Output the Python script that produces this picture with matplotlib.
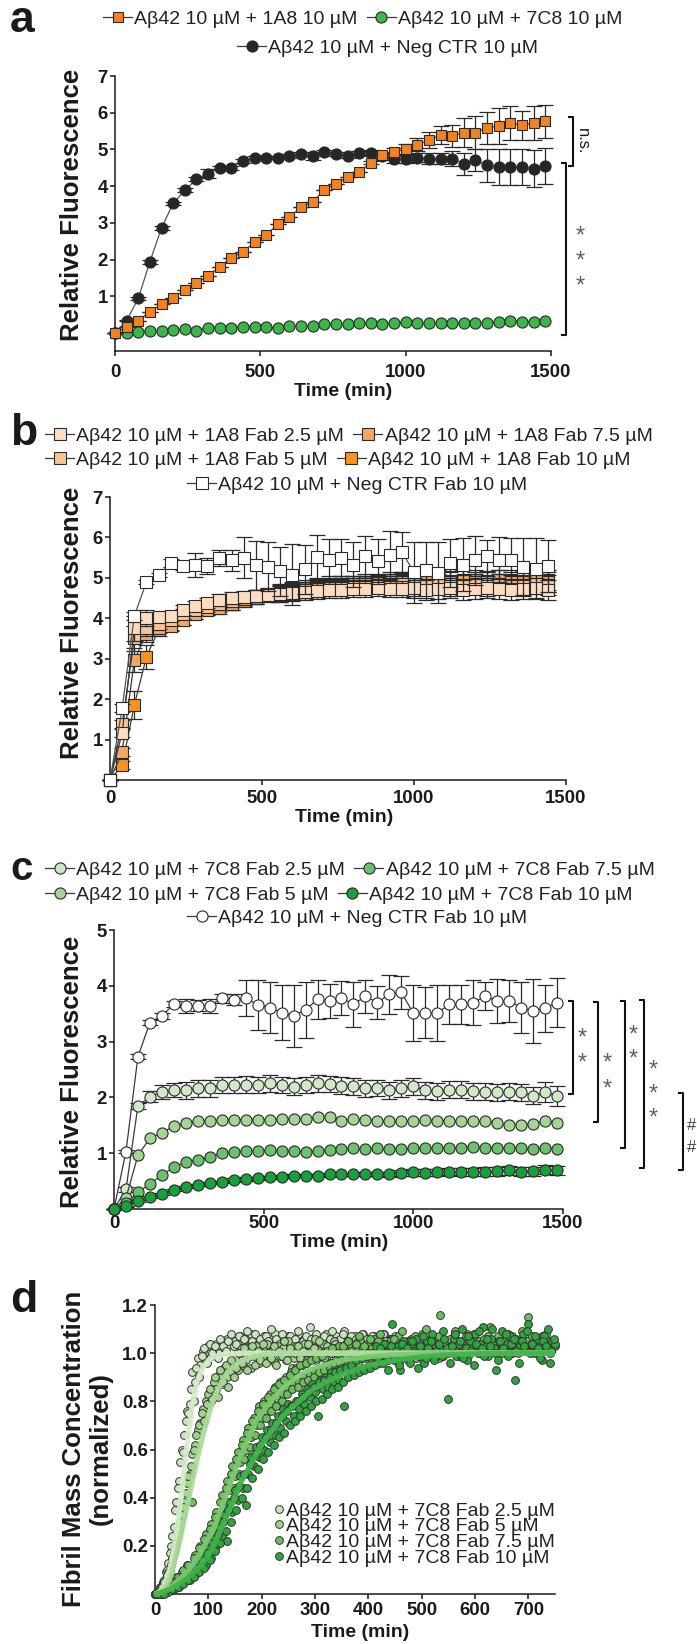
import numpy as np
import matplotlib
matplotlib.use("Agg")
import matplotlib.pyplot as plt
from matplotlib.lines import Line2D

plt.rcParams['font.family'] = ['Liberation Sans', 'DejaVu Sans']

# ------------------------------------------------------------------ data
# panel a (time step 40 min, 0..1480)
a_step = 40
a_1A8 = [0.0, 0.17, 0.34, 0.58, 0.78, 0.96, 1.17, 1.35, 1.56, 1.8, 2.05, 2.21, 2.47, 2.67, 2.96,
         3.16, 3.42, 3.57, 3.89, 4.07, 4.25, 4.39, 4.64, 4.84, 4.93, 5.0, 5.13, 5.25, 5.39, 5.36,
         5.46, 5.46, 5.59, 5.64, 5.72, 5.66, 5.72, 5.77]
a_1A8_err = [0, 0, 0, 0, 0, 0, 0, 0, 0, 0, 0, 0, 0, 0, 0, 0, 0, 0, 0, 0, 0, 0,
             0.05, 0.08, 0.12, 0.15, 0.18, 0.22, 0.25, 0.3, 0.4, 0.45, 0.43, 0.48, 0.45, 0.4, 0.45, 0.45]
a_7C8 = [0.0, 0.0, 0.04, 0.05, 0.05, 0.08, 0.1, 0.05, 0.15, 0.15, 0.15, 0.17, 0.17, 0.17, 0.13,
         0.19, 0.19, 0.19, 0.24, 0.24, 0.24, 0.26, 0.26, 0.24, 0.26, 0.31, 0.28, 0.26, 0.28, 0.28,
         0.26, 0.26, 0.26, 0.31, 0.34, 0.31, 0.31, 0.33]
a_neg = [0.0, 0.34, 0.94, 1.94, 2.86, 3.53, 3.89, 4.19, 4.34, 4.5, 4.5, 4.69, 4.78, 4.78, 4.78,
         4.83, 4.87, 4.82, 4.93, 4.88, 4.82, 4.91, 4.9, 4.82, 4.75, 4.75, 4.78, 4.75, 4.75, 4.75,
         4.61, 4.7, 4.57, 4.52, 4.52, 4.52, 4.48, 4.55]
a_neg_err = [0, 0.02, 0.03, 0.05, 0.05, 0.05, 0.05, 0.06, 0.12, 0.06, 0.05, 0.05, 0.05, 0.05, 0.05,
             0.05, 0.06, 0.1, 0.06, 0.06, 0.06, 0.06, 0.08, 0.1, 0.12, 0.12, 0.12, 0.15, 0.15, 0.2,
             0.3, 0.3, 0.45, 0.5, 0.5, 0.5, 0.5, 0.5]

# panel b (time step 40 min, 0..1440)
b_step = 40
b_neg = [0, 1.77, 4.06, 4.9, 5.06, 5.37, 5.29, 5.31, 5.29, 5.49, 5.43, 5.5, 5.31, 5.28, 5.16, 5.08,
         5.21, 5.51, 5.45, 5.5, 5.33, 5.54, 5.41, 5.57, 5.64, 5.14, 5.19, 5.13, 5.37, 5.33, 5.43,
         5.54, 5.45, 5.43, 5.28, 5.23, 5.29]
b_neg_err = [0, 0.1, 0.1, 0.05, 0.05, 0.1, 0.1, 0.3, 0.2, 0.2, 0.25, 0.5, 0.6, 0.6, 0.6, 0.75, 0.6,
             0.55, 0.5, 0.45, 0.55, 0.5, 0.55, 0.6, 0.5, 0.75, 0.7, 0.75, 0.6, 0.65, 0.6, 0.4, 0.55,
             0.55, 0.7, 0.75, 0.65]
b_25 = [0, 1.16, 3.75, 4.0, 4.02, 4.05, 4.2, 4.3, 4.38, 4.45, 4.5, 4.52, 4.55, 4.58, 4.6, 4.62,
        4.65, 4.68, 4.7, 4.7, 4.72, 4.72, 4.75, 4.72, 4.72, 4.75, 4.7, 4.72, 4.75, 4.7, 4.72, 4.75,
        4.72, 4.7, 4.72, 4.74, 4.7]
b_5 = [0, 1.38, 3.5, 3.75, 3.85, 3.95, 4.1, 4.2, 4.28, 4.36, 4.42, 4.48, 4.55, 4.58, 4.62, 4.66,
       4.7, 4.72, 4.75, 4.78, 4.8, 4.8, 4.82, 4.8, 4.84, 4.8, 4.82, 4.85, 4.8, 4.83, 4.85, 4.8,
       4.84, 4.82, 4.8, 4.85, 4.82]
b_75 = [0, 0.69, 2.96, 3.62, 3.75, 3.82, 3.95, 4.1, 4.2, 4.25, 4.35, 4.42, 4.5, 4.55, 4.6, 4.68,
        4.7, 4.75, 4.78, 4.8, 4.85, 4.85, 4.88, 4.9, 4.92, 4.88, 4.9, 4.9, 4.92, 4.95, 4.9, 4.92,
        4.95, 4.9, 4.92, 4.95, 4.9]
b_10 = [0, 0.36, 1.85, 3.05, 3.72, 3.8, 3.95, 4.1, 4.2, 4.3, 4.35, 4.45, 4.5, 4.6, 4.65, 4.7,
        4.75, 4.8, 4.85, 4.85, 4.85, 4.9, 4.9, 4.95, 4.95, 4.9, 4.95, 4.95, 4.9, 4.95, 4.95, 4.9,
        4.95, 4.95, 4.9, 4.95, 4.95]
b_fab_err = [0, 0.1, 0.3, 0.2, 0.12, 0.12, 0.12, 0.12, 0.12, 0.15, 0.15, 0.15, 0.15, 0.15, 0.2,
             0.2, 0.2, 0.2, 0.2, 0.2, 0.2, 0.2, 0.2, 0.2, 0.2, 0.25, 0.25, 0.25, 0.25, 0.25, 0.25,
             0.25, 0.25, 0.25, 0.25, 0.25, 0.25]
b_10_err = [0, 0.1, 0.35, 0.3, 0.15, 0.12, 0.12, 0.12, 0.12, 0.15, 0.15, 0.15, 0.15, 0.15, 0.2,
            0.2, 0.2, 0.2, 0.2, 0.2, 0.2, 0.2, 0.2, 0.2, 0.2, 0.25, 0.25, 0.25, 0.25, 0.25, 0.25,
            0.25, 0.25, 0.25, 0.25, 0.25, 0.25]

# panel c (time step 40 min, 0..1480)
c_step = 40
c_neg = [0, 1.03, 2.73, 3.34, 3.46, 3.67, 3.64, 3.64, 3.64, 3.78, 3.75, 3.78, 3.66, 3.61, 3.52,
         3.46, 3.57, 3.76, 3.73, 3.78, 3.67, 3.81, 3.7, 3.85, 3.88, 3.51, 3.52, 3.51, 3.67, 3.67,
         3.7, 3.81, 3.73, 3.73, 3.61, 3.55, 3.6, 3.7]
c_neg_err = [0, 0.03, 0.05, 0.05, 0.05, 0.05, 0.12, 0.1, 0.12, 0.08, 0.1, 0.33, 0.45, 0.45, 0.5,
             0.55, 0.5, 0.35, 0.3, 0.3, 0.4, 0.3, 0.3, 0.35, 0.3, 0.5, 0.45, 0.5, 0.35, 0.35, 0.4,
             0.25, 0.4, 0.38, 0.45, 0.58, 0.42, 0.44]
c_25 = [0, 0.35, 1.85, 2.01, 2.1, 2.13, 2.13, 2.16, 2.16, 2.22, 2.22, 2.23, 2.22, 2.25, 2.22, 2.19,
        2.22, 2.25, 2.24, 2.21, 2.2, 2.16, 2.17, 2.13, 2.16, 2.2, 2.13, 2.11, 2.14, 2.14, 2.11, 2.1,
        2.09, 2.1, 2.09, 2.03, 2.09, 2.03]
c_25_err = [0, 0.05, 0.05, 0.1, 0.12, 0.12, 0.15, 0.15, 0.15, 0.15, 0.15, 0.15, 0.15, 0.15, 0.15,
            0.15, 0.15, 0.15, 0.15, 0.15, 0.15, 0.15, 0.15, 0.15, 0.15, 0.15, 0.15, 0.15, 0.15, 0.15,
            0.15, 0.15, 0.15, 0.15, 0.15, 0.15, 0.18, 0.18]
c_5 = [0, 0.2, 0.96, 1.27, 1.37, 1.48, 1.54, 1.57, 1.58, 1.6, 1.6, 1.6, 1.6, 1.6, 1.61, 1.61, 1.62,
       1.64, 1.64, 1.58, 1.61, 1.6, 1.58, 1.57, 1.57, 1.57, 1.6, 1.58, 1.58, 1.57, 1.57, 1.57, 1.54,
       1.51, 1.51, 1.52, 1.58, 1.54]
c_75 = [0, 0.1, 0.3, 0.45, 0.61, 0.75, 0.84, 0.88, 0.93, 1.0, 1.02, 1.04, 1.04, 1.06, 1.04, 1.04,
        1.02, 1.04, 1.06, 1.07, 1.09, 1.07, 1.09, 1.07, 1.07, 1.09, 1.09, 1.1, 1.1, 1.1, 1.12, 1.1,
        1.1, 1.1, 1.09, 1.07, 1.1, 1.07]
c_10 = [0, 0.05, 0.15, 0.21, 0.27, 0.34, 0.4, 0.43, 0.46, 0.49, 0.52, 0.54, 0.55, 0.57, 0.58, 0.6,
        0.6, 0.6, 0.62, 0.62, 0.62, 0.63, 0.63, 0.62, 0.64, 0.66, 0.65, 0.66, 0.67, 0.66, 0.67, 0.67,
        0.68, 0.69, 0.67, 0.68, 0.7, 0.69]
c_10_err = [0, 0.01, 0.02, 0.02, 0.02, 0.02, 0.02, 0.02, 0.02, 0.02, 0.03, 0.03, 0.03, 0.03, 0.03,
            0.03, 0.03, 0.03, 0.03, 0.03, 0.03, 0.04, 0.04, 0.04, 0.05, 0.06, 0.06, 0.06, 0.06, 0.07,
            0.07, 0.08, 0.08, 0.08, 0.08, 0.08, 0.08, 0.08]

# panel d scatter: replicate 1 at t = 0, 5, 10 ... ; replicate 2 at t = 2.5, 7.5, ...
d_step = 5
d_25 = [0.0, 0.01, 0.03, 0.05, 0.09, 0.13, 0.2, 0.28, 0.38, 0.47, 0.6, 0.66, 0.76, 0.79, 0.92, 0.88,
        0.98, 0.95, 1.01, 0.97, 1.03, 0.99, 1.02, 1.04, 1.0, 1.05, 1.02, 1.06, 1.03, 1.01, 1.05, 1.04,
        1.07, 1.02, 1.06, 1.03, 1.08, 1.04, 1.06, 1.02, 1.05, 1.07, 1.03, 1.06, 1.04, 1.08, 1.05, 1.03,
        1.06, 1.04, 1.07, 1.05, 1.03, 1.06, 1.08, 1.04, 1.06, 1.05, 1.11, 1.04, 1.07, 1.05, 1.03, 1.06,
        1.08, 1.04, 1.06, 1.05, 1.07, 1.03, 1.06, 1.09, 1.04, 1.06, 1.05, 1.07, 1.04, 1.06, 1.08, 1.05,
        1.03, 1.06, 1.07, 1.04, 1.06, 1.05, 1.08, 1.04, 1.06, 1.05, 1.07]
d_25_r2 = [0.0, 0.02, 0.03, 0.06, 0.1, 0.17, 0.24, 0.35, 0.44, 0.55, 0.59, 0.72, 0.75, 0.85, 0.8,
           0.94, 0.9, 0.99, 1.02, 0.96, 1.04, 1.0, 1.03, 0.98, 1.06, 1.03, 1.01, 1.05, 1.08, 1.03,
           1.04, 1.07, 1.02, 1.06, 1.09, 1.03, 1.05, 1.08, 1.04, 1.06, 1.02, 1.07, 1.05, 1.1, 1.03,
           1.06, 1.04, 1.08, 1.05, 1.02, 1.07, 1.04, 1.06, 1.09, 1.03, 1.05, 1.07, 1.04, 1.06, 1.02,
           1.08, 1.05, 1.03, 1.07, 1.04, 1.06, 1.09, 1.05, 1.03, 1.06, 1.08, 1.04, 1.05, 1.07, 1.03,
           1.06, 1.04, 1.08, 1.05, 1.06, 1.03, 1.07, 1.05, 1.04, 1.06, 1.08, 1.05, 1.03, 1.06, 1.04]
d_5 = [0.0, 0.01, 0.02, 0.04, 0.06, 0.09, 0.12, 0.17, 0.21, 0.27, 0.33, 0.38, 0.46, 0.5, 0.58, 0.62,
       0.68, 0.71, 0.77, 0.8, 0.83, 0.8, 0.88, 0.85, 0.91, 0.87, 0.94, 0.9, 0.96, 0.92, 0.98, 0.93,
       1.0, 0.95, 0.97, 1.02, 0.94, 0.99, 1.03, 0.96, 1.0, 0.97, 1.04, 0.98, 1.01, 0.96, 1.03, 0.99,
       1.02, 0.97, 1.05, 1.0, 0.98, 1.03, 1.01, 0.97, 1.04, 1.0, 0.98, 1.02, 1.06, 0.99, 1.01, 1.04,
       0.98, 1.02, 1.0, 1.05, 0.99, 1.03, 1.01, 0.97, 1.04, 1.0, 1.02, 0.98, 1.05, 1.01, 0.99, 1.03,
       1.0, 1.04, 0.98, 1.02, 1.05, 1.0, 0.97, 1.03, 1.01, 1.06, 0.99, 1.02, 1.04, 1.0, 0.98, 1.03,
       1.05, 1.01, 0.99, 1.04, 1.02, 0.98, 1.03, 1.01, 1.05, 1.0, 1.02, 1.04, 0.99, 1.03, 1.01]
d_5_r2 = [0.0, 0.01, 0.03, 0.05, 0.08, 0.1, 0.15, 0.19, 0.24, 0.3, 0.36, 0.42, 0.49, 0.53, 0.6,
          0.66, 0.7, 0.75, 0.72, 0.79, 0.85, 0.81, 0.9, 0.82, 0.93, 0.88, 0.95, 0.86, 0.97, 0.9,
          0.94, 1.0, 0.96, 1.02, 0.93, 0.99, 1.03, 0.95, 1.01, 0.97, 1.04, 0.96, 1.0, 0.98, 1.03,
          0.95, 1.01, 0.99, 1.05, 0.97, 1.02, 0.94, 1.0, 1.03, 0.98, 1.01, 0.96, 1.04, 0.99, 1.02,
          0.97, 1.05, 1.0, 0.98, 1.03, 0.96, 1.01, 1.04, 0.99, 1.02, 0.97, 1.0, 1.05, 0.98, 1.02,
          0.96, 1.03, 1.0, 0.99, 1.04, 0.97, 1.01, 1.03, 0.98, 1.05, 1.0, 0.97, 1.02, 1.04, 0.99,
          1.01, 0.96, 1.03, 1.0, 1.05, 0.98, 1.02, 0.99, 1.04, 1.01, 0.97, 1.03, 1.0, 1.06, 0.99,
          1.02, 0.98, 1.04, 1.01, 1.03]
d_75 = [0.0, 0.0, 0.01, 0.0, 0.03, 0.02, 0.05, 0.03, 0.07, 0.05, 0.09, 0.07, 0.12, 0.09, 0.38, 0.16,
        0.13, 0.2, 0.17, 0.25, 0.21, 0.29, 0.25, 0.34, 0.3, 0.41, 0.36, 0.47, 0.43, 0.53, 0.49, 0.59,
        0.55, 0.64, 0.6, 0.69, 0.65, 0.73, 0.7, 0.78, 0.73, 0.8, 0.76, 0.83, 0.79, 0.86, 0.81, 0.88,
        0.83, 0.9, 0.85, 0.92, 0.87, 0.94, 0.88, 0.95, 0.9, 0.97, 0.91, 0.98, 0.92, 0.99, 0.93, 1.0,
        0.95, 1.01, 0.96, 1.02, 0.97, 1.03, 0.98, 1.02, 0.97, 1.04, 0.99, 1.02, 0.96, 1.05, 1.0, 0.98,
        1.03, 1.01, 1.06, 0.99, 1.02, 1.04, 1.0, 0.98, 1.05, 1.02, 1.0, 1.07, 1.03, 0.99, 1.04, 1.01,
        1.06, 1.02, 0.98, 1.04, 1.08, 1.02, 1.0, 1.05, 1.03, 0.99, 1.06, 1.16, 1.02, 1.05, 1.0, 1.04,
        1.07, 1.02, 0.99, 1.05, 1.03, 1.08, 1.01, 1.04, 1.06, 1.02, 1.0, 1.05, 1.03, 1.07, 1.01, 1.04,
        1.02, 1.06, 1.0, 1.03, 1.05, 1.01, 1.07, 1.03, 1.0, 1.04, 1.06, 1.02, 1.15, 1.03, 1.05, 1.01,
        1.04, 1.07, 1.02, 1.05, 1.0, 1.04, 1.03]
d_75_r2 = [0.0, 0.01, 0.0, 0.02, 0.03, 0.02, 0.05, 0.04, 0.07, 0.06, 0.1, 0.07, 0.12, 0.1, 0.15,
           0.12, 0.19, 0.15, 0.23, 0.19, 0.27, 0.22, 0.32, 0.27, 0.38, 0.33, 0.44, 0.38, 0.5, 0.44,
           0.56, 0.5, 0.62, 0.56, 0.67, 0.61, 0.72, 0.66, 0.76, 0.7, 0.79, 0.73, 0.82, 0.76, 0.85,
           0.78, 0.87, 0.8, 0.89, 0.83, 0.91, 0.85, 0.93, 0.86, 0.95, 0.88, 0.96, 0.89, 0.97, 0.9,
           0.98, 0.92, 0.99, 0.93, 1.01, 0.94, 1.02, 0.95, 1.0, 0.96,
           1.03, 0.98, 1.05, 1.01, 0.97, 1.04, 1.07, 1.0, 1.03, 0.99, 1.06, 1.02, 0.98, 1.05, 1.08,
           1.01, 1.04, 0.97, 1.03, 1.06, 1.0, 1.04, 1.09, 1.02, 0.99, 1.05, 1.03, 1.07, 1.0, 1.04,
           1.02, 1.1, 1.01, 1.05, 0.98, 1.03, 1.07, 1.02, 1.04, 1.0, 1.06, 1.03, 1.09, 1.01, 1.05,
           1.02, 1.07, 0.99, 1.04, 1.08, 1.02, 1.05, 1.0, 1.06, 1.03, 1.11, 1.02, 1.04, 1.07, 1.01,
           1.05, 1.03, 1.08, 1.0, 1.04, 1.06, 1.02, 1.09, 1.03, 1.05, 1.01, 1.07, 1.04, 1.02, 1.06,
           1.03, 1.08, 1.05, 1.01, 1.04]
d_10 = [0.0, 0.0, 0.0, 0.01, 0.02, 0.01, 0.03, 0.02, 0.05, 0.03, 0.07, 0.05, 0.08, 0.06, 0.1, 0.08,
        0.13, 0.1, 0.16, 0.12, 0.19, 0.15, 0.23, 0.2, 0.28, 0.24, 0.33, 0.22, 0.38, 0.34, 0.43, 0.39,
        0.49, 0.44, 0.37, 0.5, 0.57, 0.53, 0.61, 0.57, 0.65, 0.6, 0.68, 0.63, 0.71, 0.66, 0.74, 0.69,
        0.77, 0.72, 0.79, 0.78, 0.74, 0.8, 0.77, 0.83, 0.79, 0.85, 0.82, 0.87, 0.84, 0.74, 0.89, 0.85,
        0.9, 0.86, 0.92, 0.88, 0.93, 0.89, 0.94, 0.78, 0.95, 0.91, 0.96, 0.92, 0.98, 0.93, 0.99, 0.94,
        1.0, 0.95, 0.99, 1.03, 0.96, 1.0, 1.04, 0.97, 1.02, 1.12, 0.98, 1.03, 0.93, 1.05, 1.0, 0.97,
        1.04, 1.01, 1.06, 0.99, 1.03, 0.96, 1.05, 1.01, 1.08, 0.98, 1.04, 1.02, 1.09, 1.0, 0.81, 1.03,
        1.06, 0.99, 1.04, 1.1, 1.01, 0.97, 1.05, 1.02, 1.08, 1.0, 1.04, 1.11, 1.03, 0.99, 1.06, 1.02,
        0.93, 1.05, 1.09, 1.01, 1.04, 1.07, 1.0, 0.89, 1.05, 1.03, 1.08, 1.01, 1.12, 1.04, 1.0, 1.06,
        1.03, 0.97, 1.07, 1.02, 0.96, 1.05, 1.04]
d_10_r2 = [0.0, 0.0, 0.01, 0.0, 0.02, 0.03, 0.02, 0.04, 0.03, 0.06, 0.04, 0.07, 0.06, 0.09, 0.07,
           0.11, 0.09, 0.14, 0.11, 0.17, 0.14, 0.21, 0.18, 0.25, 0.21, 0.3, 0.26, 0.35, 0.3, 0.4,
           0.35, 0.45, 0.4, 0.5, 0.44, 0.54, 0.48, 0.58, 0.52, 0.62, 0.56, 0.65, 0.59, 0.68, 0.62,
           0.71, 0.65, 0.74, 0.67, 0.76, 0.7, 0.78, 0.72, 0.8, 0.74, 0.82, 0.76, 0.84, 0.78, 0.86,
           0.8, 0.88, 0.81, 0.89, 0.83, 0.9, 0.85, 0.92, 0.86, 0.93,
           0.88, 0.94, 0.9, 0.95, 0.91, 0.97, 0.92, 0.98, 0.93, 0.99, 0.94, 1.0, 0.95, 0.98, 1.02,
           0.96, 1.0, 0.93, 1.03, 0.97, 1.01, 0.95, 1.04, 0.99, 1.02, 0.96, 1.05, 1.0, 0.94, 1.03,
           1.07, 0.98, 1.02, 1.05, 0.97, 1.01, 1.04, 0.99, 1.06, 1.02, 0.96, 1.03, 1.08, 1.0, 1.05,
           0.98, 1.02, 1.07, 1.01, 0.95, 1.04, 1.09, 1.02, 0.99, 1.06, 1.03, 1.1, 1.0, 0.97, 1.05,
           1.02, 1.08, 0.99, 1.04, 1.06, 1.01, 0.96, 1.05, 1.03, 1.09, 1.0, 1.04, 1.07, 1.02, 0.98,
           1.05, 1.03, 1.1, 1.01, 1.06]

# panel d fitted curves
d_fit_t = [0, 10, 20, 30, 40, 50, 60, 70, 80, 90, 100, 110, 120, 130, 140, 150, 160, 170, 180, 190,
           200, 210, 220, 230, 240, 250, 260, 270, 280, 290, 300, 325, 350, 375, 400, 425, 450, 475,
           500, 525, 550, 575, 600, 625, 650, 675, 700, 725, 750]
d_fit_25 = [0, 0.01, 0.05, 0.12, 0.25, 0.42, 0.62, 0.79, 0.89, 0.94, 0.97, 0.985, 0.99, 0.995, 0.997,
            0.998, 1.0, 1.0, 1.0, 1.0, 1.0, 1.0, 1.0, 1.0, 1.0, 1.0, 1.0, 1.0, 1.0, 1.0, 1.0, 1.0, 1.0,
            1.0, 1.0, 1.0, 1.0, 1.0, 1.0, 1.0, 1.0, 1.0, 1.0, 1.0, 1.0, 1.0, 1.0, 1.0, 1.0]
d_fit_5 = [0, 0.01, 0.03, 0.08, 0.16, 0.26, 0.36, 0.47, 0.57, 0.66, 0.74, 0.81, 0.86, 0.9, 0.93, 0.95,
           0.965, 0.975, 0.982, 0.988, 0.992, 0.995, 0.997, 0.998, 0.999, 1.0, 1.0, 1.0, 1.0, 1.0,
           1.0, 1.0, 1.0, 1.0, 1.0, 1.0, 1.0, 1.0, 1.0, 1.0, 1.0, 1.0, 1.0, 1.0, 1.0, 1.0, 1.0, 1.0, 1.0]
d_fit_75 = [0, 0.005, 0.015, 0.03, 0.05, 0.07, 0.09, 0.12, 0.15, 0.19, 0.23, 0.27, 0.33, 0.39, 0.45,
            0.51, 0.57, 0.62, 0.67, 0.72, 0.75, 0.78, 0.81, 0.83, 0.855, 0.875, 0.89, 0.905, 0.92,
            0.93, 0.94, 0.955, 0.97, 0.978, 0.985, 0.99, 0.993, 0.995, 0.997, 0.998, 0.999, 1.0, 1.0,
            1.0, 1.0, 1.0, 1.0, 1.0, 1.0]
d_fit_10 = [0, 0.005, 0.012, 0.022, 0.035, 0.05, 0.065, 0.085, 0.105, 0.13, 0.16, 0.2, 0.25, 0.3,
            0.35, 0.4, 0.46, 0.5, 0.54, 0.58, 0.62, 0.65, 0.68, 0.71, 0.74, 0.76, 0.78, 0.8, 0.82,
            0.84, 0.855, 0.885, 0.91, 0.93, 0.95, 0.96, 0.97, 0.978, 0.985, 0.99, 0.993, 0.995, 0.997,
            0.998, 0.999, 1.0, 1.0, 1.0, 1.0]

# labels
lab_a = ["Aβ42 10 µM + 1A8 10 µM", "Aβ42 10 µM + 7C8 10 µM", "Aβ42 10 µM + Neg CTR 10 µM"]
lab_b = ["Aβ42 10 µM + 1A8 Fab 2.5 µM", "Aβ42 10 µM + 1A8 Fab 5 µM", "Aβ42 10 µM + 1A8 Fab 7.5 µM",
         "Aβ42 10 µM + 1A8 Fab 10 µM", "Aβ42 10 µM + Neg CTR Fab 10 µM"]
lab_c = ["Aβ42 10 µM + 7C8 Fab 2.5 µM", "Aβ42 10 µM + 7C8 Fab 5 µM", "Aβ42 10 µM + 7C8 Fab 7.5 µM",
         "Aβ42 10 µM + 7C8 Fab 10 µM", "Aβ42 10 µM + Neg CTR Fab 10 µM"]
lab_d = ["Aβ42 10 µM + 7C8 Fab 2.5 µM", "Aβ42 10 µM + 7C8 Fab 5 µM", "Aβ42 10 µM + 7C8 Fab 7.5 µM",
         "Aβ42 10 µM + 7C8 Fab 10 µM"]
fluo_ticks = [1, 2, 3, 4, 5, 6, 7]
time_ticks = [0, 500, 1000, 1500]

# ------------------------------------------------------------------ colours
ORANGE = '#F58220'
GREEN = '#3DB54A'
BLACK = '#262626'
b_cols = ['#FDDCC2', '#FAC391', '#F7A85C', '#F7941D']
c_cols = ['#CFE8C6', '#A5D596', '#6EC16C', '#18A03C']
d_cols = ['#C8E5BD', '#A2D38E', '#6DBF5E', '#2FA63D']
d_fit_cols = ['#D5EDCB', '#ABDB98', '#7ECB70', '#43B24C']
EDGE = '#2a2a2a'
STAR = '#5f5f5f'

# ------------------------------------------------------------------ figure
W, H = 697, 1644
fig = plt.figure(figsize=(W / 100, H / 100), dpi=100)


def fx(x):
    return x / W


def fy(y):
    return 1 - y / H


def px_box(x0, x1, y_top, y_bot):
    return [x0 / W, 1 - y_bot / H, (x1 - x0) / W, (y_bot - y_top) / H]


TICK_FS = 13.4
LAB_FS = 18.5
LEG_FS = 14


def style_axes(ax, xpad, ypad):
    for s in ['top', 'right']:
        ax.spines[s].set_visible(False)
    for s in ['left', 'bottom']:
        ax.spines[s].set_linewidth(1.1)
        ax.spines[s].set_color('#1a1a1a')
    ax.tick_params(direction='out', length=3.6, width=1.1, labelsize=TICK_FS, colors='#1a1a1a')
    ax.tick_params(axis='x', pad=xpad)
    ax.tick_params(axis='y', pad=ypad)
    for lab in ax.get_xticklabels() + ax.get_yticklabels():
        lab.set_fontweight('bold')


def series(ax, t, y, err, fc, mk, ms, lc='#3a3a3a', z=3):
    if err is not None:
        ax.errorbar(t, y, yerr=err, fmt='none', ecolor='#2a2a2a', elinewidth=0.9, capsize=6,
                    capthick=0.9, zorder=z - 0.5, clip_on=False)
    ax.plot(t, y, '-', color=lc, lw=0.9, zorder=z - 0.2, clip_on=False)
    ax.plot(t, y, ls='none', marker=mk, ms=ms, mfc=fc, mec=EDGE, mew=0.8, zorder=z, clip_on=False)


def handle(mk, ms, fc, line=True):
    return Line2D([], [], color='#3a3a3a', lw=0.9 if line else 0, marker=mk, ms=ms, mfc=fc,
                  mec=EDGE, mew=0.8)


def row_legend(handles, labels, x_px, y_px):
    fig.legend(handles, labels, loc='center left', bbox_to_anchor=(fx(x_px), fy(y_px)),
               bbox_transform=fig.transFigure, ncol=len(handles), frameon=False, fontsize=LEG_FS,
               handlelength=1.5, handletextpad=0.12, columnspacing=0.45, borderpad=0,
               borderaxespad=0, labelcolor='#222222')


def set_labels(ax, xlab, xc, ylab, yc):
    ax.set_xlabel(xlab, fontsize=14, fontweight='bold', color='#1a1a1a')
    ax.xaxis.set_label_coords(fx(xc[0]), fy(xc[1]), transform=fig.transFigure)
    ax.xaxis.label.set_va('center')
    ax.set_ylabel(ylab, fontsize=LAB_FS, fontweight='bold', color='#1a1a1a', linespacing=1.15)
    ax.yaxis.set_label_coords(fx(yc[0]), fy(yc[1]), transform=fig.transFigure)
    ax.yaxis.label.set_va('center')


def bracket(x, y0, y1, stub=4):
    fig.add_artist(Line2D([fx(x - stub), fx(x), fx(x), fx(x - stub)], [fy(y0), fy(y0), fy(y1), fy(y1)],
                          transform=fig.transFigure, color='#111111', lw=1.5))


def stars(x, ys, ch='*', fs=17, color=STAR, dy=13):
    for y in ys:
        fig.text(fx(x), fy(y + dy), ch, fontsize=fs, color=color, ha='center', va='baseline')


# ------------------------------------------------------------------ panel a
ax_a = fig.add_axes(px_box(115, 551, 76, 351))
t_a = np.arange(len(a_neg)) * a_step
series(ax_a, t_a, a_neg, a_neg_err, BLACK, 'o', 8, lc='#555555', z=3)
series(ax_a, t_a, a_7C8, None, GREEN, 'o', 8, z=4)
series(ax_a, t_a, a_1A8, a_1A8_err, ORANGE, 's', 7.8, z=5)
ax_a.set_xlim(0, 1500)
ax_a.set_ylim(-0.49, 7)
ax_a.set_yticks(fluo_ticks)
ax_a.set_xticks(time_ticks)
style_axes(ax_a, 5.5, 1.5)
set_labels(ax_a, 'Time (min)', (343, 392), 'Relative Fluorescence', (72, 205))
row_legend([handle('s', 7.8, ORANGE), handle('o', 8, GREEN)], lab_a[:2], 103, 19)
row_legend([handle('o', 8, BLACK)], lab_a[2:], 237, 48)
fig.text(fx(10), fy(32), 'a', fontsize=32, fontweight='bold', color='#1a1a1a', va='baseline')
bracket(573, 117, 166)
fig.text(fx(582), fy(141), 'n.s.', fontsize=12, rotation=270, ha='center', va='center', color='#1a1a1a')
bracket(566, 163, 335)
stars(580, [230, 255, 280])

# ------------------------------------------------------------------ panel b
ax_b = fig.add_axes(px_box(110, 566, 497, 780))
t_b = np.arange(len(b_neg)) * b_step
series(ax_b, t_b, b_10, b_10_err, b_cols[3], 's', 8, z=3)
series(ax_b, t_b, b_75, b_fab_err, b_cols[2], 's', 8, z=4)
series(ax_b, t_b, b_5, b_fab_err, b_cols[1], 's', 8, z=5)
series(ax_b, t_b, b_25, b_fab_err, b_cols[0], 's', 8, z=6)
series(ax_b, t_b, b_neg, b_neg_err, 'white', 's', 8, lc='#555555', z=7)
ax_b.set_xlim(0, 1500)
ax_b.set_ylim(0, 7)
ax_b.set_yticks(fluo_ticks)
ax_b.set_xticks(time_ticks)
style_axes(ax_b, 3.5, 1.5)
set_labels(ax_b, 'Time (min)', (344, 817), 'Relative Fluorescence', (72, 623))
row_legend([handle('s', 8, b_cols[0]), handle('s', 8, b_cols[2])], [lab_b[0], lab_b[2]], 45, 436)
row_legend([handle('s', 8, b_cols[1]), handle('s', 8, b_cols[3])], [lab_b[1], lab_b[3]], 45, 460)
row_legend([handle('s', 8, 'white')], [lab_b[4]], 187, 485)
fig.text(fx(10), fy(445), 'b', fontsize=32, fontweight='bold', color='#1a1a1a', va='baseline')

# ------------------------------------------------------------------ panel c
ax_c = fig.add_axes(px_box(114, 563, 930, 1209))
t_c = np.arange(len(c_neg)) * c_step
series(ax_c, t_c, c_neg, c_neg_err, 'white', 'o', 8, z=3)
series(ax_c, t_c, c_25, c_25_err, c_cols[0], 'o', 8, z=4)
series(ax_c, t_c, c_5, None, c_cols[1], 'o', 8, z=5)
series(ax_c, t_c, c_75, None, c_cols[2], 'o', 8, z=6)
series(ax_c, t_c, c_10, c_10_err, c_cols[3], 'o', 8, z=7)
ax_c.set_xlim(0, 1500)
ax_c.set_ylim(0, 5)
ax_c.set_yticks([1, 2, 3, 4, 5])
ax_c.set_xticks(time_ticks)
style_axes(ax_c, 0.8, 1.5)
set_labels(ax_c, 'Time (min)', (339, 1242), 'Relative Fluorescence', (72, 1072))
row_legend([handle('o', 8, c_cols[0]), handle('o', 8, c_cols[2])], [lab_c[0], lab_c[2]], 45, 870)
row_legend([handle('o', 8, c_cols[1]), handle('o', 8, c_cols[3])], [lab_c[1], lab_c[3]], 45, 895)
row_legend([handle('o', 8, 'white')], [lab_c[4]], 187, 918)
fig.text(fx(10), fy(880), 'c', fontsize=29, fontweight='bold', color='#1a1a1a', va='baseline')
bracket(573, 1001, 1094)
stars(582, [1032, 1057])
bracket(598, 1002, 1122)
stars(607, [1057, 1083])
bracket(625, 1001, 1148)
stars(633, [1029, 1053])
bracket(644, 1000, 1168)
stars(653, [1064, 1088, 1112])
bracket(683, 1093, 1170)
stars(692, [1125, 1147], ch='#', fs=12, color='#444444', dy=5)

# ------------------------------------------------------------------ panel d
ax_d = fig.add_axes(px_box(155, 555, 1305, 1594))
d_sets = [(d_25, 0.0, d_cols[0], 3), (d_25_r2, 2.5, d_cols[0], 3),
          (d_5, 0.0, d_cols[1], 4), (d_5_r2, 2.5, d_cols[1], 4),
          (d_75, 0.0, d_cols[2], 5), (d_75_r2, 2.5, d_cols[2], 5),
          (d_10, 0.0, d_cols[3], 6), (d_10_r2, 2.5, d_cols[3], 6)]
for vals, off, col, z in d_sets:
    td = np.arange(len(vals)) * d_step + off
    ax_d.plot(td, vals, ls='none', marker='o', ms=5.6, mfc=col, mec='#333333', mew=0.7, zorder=z,
              clip_on=False)
for fit, col in zip([d_fit_25, d_fit_5, d_fit_75, d_fit_10], d_fit_cols):
    ax_d.plot(d_fit_t, fit, '-', color=col, lw=3.8, alpha=0.92, zorder=8, clip_on=False,
              solid_capstyle='butt')
ax_d.set_xlim(0, 750)
ax_d.set_ylim(0, 1.2)
ax_d.set_yticks([0.2, 0.4, 0.6, 0.8, 1.0, 1.2])
ax_d.set_yticklabels(['0.2', '0.4', '0.6', '0.8', '1.0', '1.2'])
ax_d.set_xticks([0, 100, 200, 300, 400, 500, 600, 700])
style_axes(ax_d, 1.8, 1.5)
set_labels(ax_d, 'Time (min)', (360, 1632), 'Fibril Mass Concentration\n(normalized)', (87, 1449))
hd = [Line2D([], [], ls='none', marker='o', ms=5.6, mfc=c, mec='#333333', mew=0.7) for c in d_cols]
fig.legend(hd, lab_d, loc='upper left', bbox_to_anchor=(fx(274), fy(1502)),
           bbox_transform=fig.transFigure, frameon=False, fontsize=LEG_FS, handlelength=0.55,
           handletextpad=0.05, labelspacing=-0.1, borderpad=0, borderaxespad=0, labelcolor='#222222')
fig.text(fx(10), fy(1312), 'd', fontsize=32, fontweight='bold', color='#1a1a1a', va='baseline')

fig.savefig('out.png', dpi=100)
